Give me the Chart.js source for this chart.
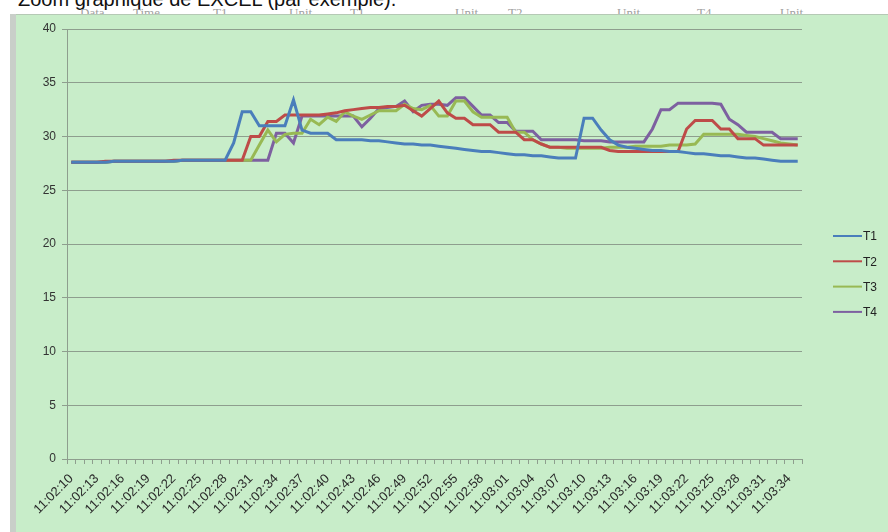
<!DOCTYPE html>
<html>
<head>
<meta charset="utf-8">
<script src="https://cdn.jsdelivr.net/npm/chart.js@4.4.1/dist/chart.umd.min.js"></script>
<style>
    html, body { margin: 0; padding: 0; background: #fff; overflow: hidden; }
    body { width: 888px; height: 532px; position: relative; font-family: "Liberation Sans", Arial, sans-serif; }
    #title { position: absolute; left: 18px; top: -12px; font-size: 20px; color: #111; white-space: nowrap; }
    #header { position: absolute; left: 0; top: 5px; width: 888px; height: 14px; font-family: "Liberation Serif", serif; font-size: 13px; color: #a0a0a0; }
    #header span { position: absolute; top: 0; }
    #frame { position: absolute; left: 10px; top: 14px; width: 6px; height: 518px; background: #c9cfc9; }
    #box { position: absolute; left: 16px; top: 14px; width: 872px; height: 518px; background: #c8edc9; border-top: 1px solid #b5c9b5; }
</style>
</head>
<body>
<div id="title">Zoom graphique de EXCEL (par exemple).</div>
<div id="header">
    <span style="left:80px">Data</span>
    <span style="left:133px">Time</span>
    <span style="left:213px">T1</span>
    <span style="left:289px">Unit</span>
    <span style="left:350px">T1</span>
    <span style="left:455px">Unit</span>
    <span style="left:508px">T2</span>
    <span style="left:617px">Unit</span>
    <span style="left:697px">T4</span>
    <span style="left:780px">Unit</span>
</div>
<div id="frame"></div>
<div id="box"><canvas id="chartCanvas" width="872" height="518"></canvas></div>

<script>
// time stamps, one per second
const times = [
    "11:02:10","11:02:11","11:02:12","11:02:13","11:02:14","11:02:15","11:02:16","11:02:17","11:02:18","11:02:19",
    "11:02:20","11:02:21","11:02:22","11:02:23","11:02:24","11:02:25","11:02:26","11:02:27","11:02:28","11:02:29",
    "11:02:30","11:02:31","11:02:32","11:02:33","11:02:34","11:02:35","11:02:36","11:02:37","11:02:38","11:02:39",
    "11:02:40","11:02:41","11:02:42","11:02:43","11:02:44","11:02:45","11:02:46","11:02:47","11:02:48","11:02:49",
    "11:02:50","11:02:51","11:02:52","11:02:53","11:02:54","11:02:55","11:02:56","11:02:57","11:02:58","11:02:59",
    "11:03:00","11:03:01","11:03:02","11:03:03","11:03:04","11:03:05","11:03:06","11:03:07","11:03:08","11:03:09",
    "11:03:10","11:03:11","11:03:12","11:03:13","11:03:14","11:03:15","11:03:16","11:03:17","11:03:18","11:03:19",
    "11:03:20","11:03:21","11:03:22","11:03:23","11:03:24","11:03:25","11:03:26","11:03:27","11:03:28","11:03:29",
    "11:03:30","11:03:31","11:03:32","11:03:33","11:03:34","11:03:35"
];

const t1 = [
    27.6,27.6,27.6,27.6,27.6,27.7,27.7,27.7,27.7,27.7,
    27.7,27.7,27.7,27.8,27.8,27.8,27.8,27.8,27.8,29.4,
    32.3,32.3,31.0,31.0,31.0,31.0,33.4,30.6,30.3,30.3,
    30.3,29.7,29.7,29.7,29.7,29.6,29.6,29.5,29.4,29.3,
    29.3,29.2,29.2,29.1,29.0,28.9,28.8,28.7,28.6,28.6,
    28.5,28.4,28.3,28.3,28.2,28.2,28.1,28.0,28.0,28.0,
    31.7,31.7,30.6,29.7,29.2,29.0,28.9,28.8,28.7,28.7,
    28.6,28.6,28.5,28.4,28.4,28.3,28.2,28.2,28.1,28.0,
    28.0,27.9,27.8,27.7,27.7,27.7
];

const t2 = [
    27.6,27.6,27.6,27.6,27.7,27.7,27.7,27.7,27.7,27.7,
    27.7,27.7,27.8,27.8,27.8,27.8,27.8,27.8,27.8,27.8,
    27.8,30.0,30.0,31.4,31.4,32.0,32.0,32.0,32.0,32.0,
    32.1,32.2,32.4,32.5,32.6,32.7,32.7,32.8,32.8,32.9,
    32.4,31.9,32.6,33.3,32.2,31.7,31.7,31.1,31.1,31.1,
    30.4,30.4,30.4,29.7,29.7,29.3,29.0,29.0,29.0,29.0,
    29.0,29.0,29.0,28.7,28.6,28.6,28.6,28.6,28.6,28.6,
    28.6,28.6,30.7,31.5,31.5,31.5,30.7,30.7,29.8,29.8,
    29.8,29.2,29.2,29.2,29.2,29.2
];

const t3 = [
    27.6,27.6,27.6,27.6,27.6,27.7,27.7,27.7,27.7,27.7,
    27.7,27.7,27.7,27.8,27.8,27.8,27.8,27.8,27.8,27.8,
    27.8,27.8,29.2,30.6,29.5,30.2,30.3,30.3,31.6,31.1,
    31.8,31.4,32.3,31.9,31.6,32.0,32.4,32.4,32.4,33.0,
    32.6,32.5,32.9,31.9,31.9,33.3,33.3,32.3,31.8,31.8,
    31.8,31.8,30.4,30.4,29.7,29.3,29.0,29.0,28.9,28.9,
    28.9,28.9,28.9,29.0,29.0,29.0,29.1,29.1,29.1,29.1,
    29.2,29.2,29.2,29.3,30.2,30.2,30.2,30.2,30.2,30.1,
    30.0,29.8,29.6,29.4,29.3,29.2
];

const t4 = [
    27.6,27.6,27.6,27.6,27.6,27.7,27.7,27.7,27.7,27.7,
    27.7,27.7,27.7,27.8,27.8,27.8,27.8,27.8,27.8,27.8,
    27.8,27.8,27.8,27.8,30.3,30.3,29.4,31.9,31.9,31.9,
    31.9,31.9,31.9,31.9,30.9,31.7,32.6,32.7,32.8,33.3,
    32.3,32.9,33.0,33.0,32.9,33.6,33.6,32.8,32.0,32.0,
    31.3,31.3,30.5,30.5,30.5,29.7,29.7,29.7,29.7,29.7,
    29.6,29.6,29.6,29.5,29.5,29.5,29.5,29.5,30.7,32.5,
    32.5,33.1,33.1,33.1,33.1,33.1,33.0,31.6,31.1,30.4,
    30.4,30.4,30.4,29.8,29.8,29.8
];

const seriesNames = ["T1", "T2", "T3", "T4"];
const seriesColors = ["#4a7ebb", "#be4b48", "#98b954", "#7d60a0"];

const gridColor = "#8e9e8e";

// legend drawn on the right, Excel style (line then name)
const sideLegend = {
    id: "sideLegend",
    afterDraw(chart) {
        const ctx = chart.ctx;
        ctx.save();
        ctx.font = "12px 'Liberation Sans', Arial, sans-serif";
        ctx.textBaseline = "middle";
        chart.data.datasets.forEach((ds, i) => {
            const y = 221 + i * 25.3;
            ctx.strokeStyle = ds.borderColor;
            ctx.lineWidth = 2;
            ctx.beginPath();
            ctx.moveTo(817, y);
            ctx.lineTo(846, y);
            ctx.stroke();
            ctx.fillStyle = "#222";
            ctx.fillText(ds.label, 847, y + 1);
        });
        ctx.restore();
    }
};

const ctx = document.getElementById("chartCanvas").getContext("2d");

new Chart(ctx, {
    type: "line",
    data: {
        labels: times,
        datasets: [t1, t2, t3, t4].map((vals, i) => ({
            label: seriesNames[i],
            data: vals,
            borderColor: seriesColors[i],
            backgroundColor: seriesColors[i],
            borderWidth: 3,
            pointRadius: 0,
            tension: 0
        }))
    },
    options: {
        responsive: false,
        animation: false,
        layout: {
            padding: { left: 0, right: 86, top: 14, bottom: 0 }
        },
        plugins: {
            legend: { display: false },
            tooltip: { enabled: false }
        },
        scales: {
            x: {
                offset: true,
                grid: {
                    offset: true,
                    drawOnChartArea: false,
                    drawTicks: true,
                    tickLength: 5,
                    color: gridColor
                },
                border: { display: true, color: gridColor, width: 1 },
                ticks: {
                    autoSkip: false,
                    minRotation: 45,
                    maxRotation: 45,
                    padding: 7,
                    color: "#2a2a2a",
                    font: { family: "'Liberation Sans', Arial, sans-serif", size: 13 },
                    callback: function(val, idx) {
                        return idx % 3 === 0 ? this.getLabelForValue(val) : "";
                    }
                },
                afterFit(scale) { scale.height = 74; }
            },
            y: {
                min: 0,
                max: 40,
                ticks: {
                    stepSize: 5,
                    padding: 6,
                    color: "#333",
                    font: { family: "'Liberation Sans', Arial, sans-serif", size: 12 }
                },
                grid: {
                    color: gridColor,
                    tickLength: 5
                },
                border: { display: true, color: gridColor, width: 1 },
                afterFit(scale) { scale.width = 51; }
            }
        }
    },
    plugins: [sideLegend]
});
</script>
</body>
</html>
